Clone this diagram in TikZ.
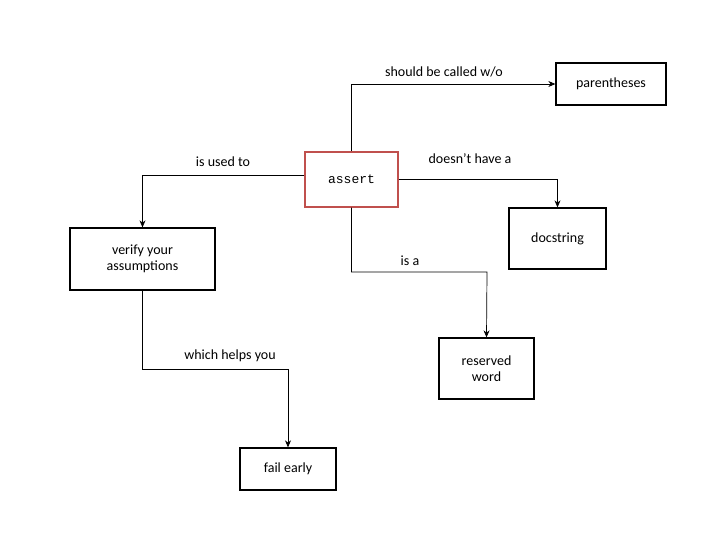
\documentclass[tikz,border=0pt]{standalone}
\usepackage{fontspec}
\setmainfont{Carlito}
\setmonofont{Liberation Mono}
\usetikzlibrary{arrows.meta}
\begin{document}
\begin{tikzpicture}[x=1pt,y=-1pt,
  box/.style={draw=black,line width=1.3pt,inner sep=0pt,align=center,font=\fontsize{14}{16}\selectfont},
  conn/.style={draw=black,line width=0.7pt,-{Stealth[length=7pt,width=6pt]}},
  lab/.style={font=\fontsize{14}{16}\selectfont,inner sep=1pt}]
\useasboundingbox (0,0) rectangle (720,540);
\node[box,draw={rgb,255:red,192;green,80;blue,77},minimum width=93pt,minimum height=55pt,font=\ttfamily\fontsize{13}{16}\selectfont] (assert) at (351.5,179.5) {assert};
\node[box,minimum width=110pt,minimum height=42pt] (par) at (611,84) {parentheses};
\node[box,minimum width=97pt,minimum height=61pt] (doc) at (557.5,238.5) {docstring};
\node[box,minimum width=145pt,minimum height=62pt] (ver) at (142.5,259) {verify your\\assumptions};
\node[box,minimum width=95pt,minimum height=61pt] (res) at (486.5,368.5) {reserved\\word};
\node[box,minimum width=96pt,minimum height=42pt] (fail) at (288,469) {fail early};
\draw[conn] (assert.north) |- (par.west);
\draw[conn] (assert.west |- 0,175) -| (ver.north);
\draw[conn] (assert.east) -| (doc.north);
\draw[conn] (assert.south) |- (487,272) -- (res.north);
\draw[conn] (ver.south) |- (288,369) -- (fail.north);
\node[lab] (l1) at (444,72) {should be called w/o};
\node[lab] (l2) at (223,162) {is used to};
\node[lab] (l3) at (470,159) {doesn’t have a};
\node[lab] (l4) at (410,261) {is a};
\node[lab] (l5) at (230,356) {which helps you};
\end{tikzpicture}
\end{document}
